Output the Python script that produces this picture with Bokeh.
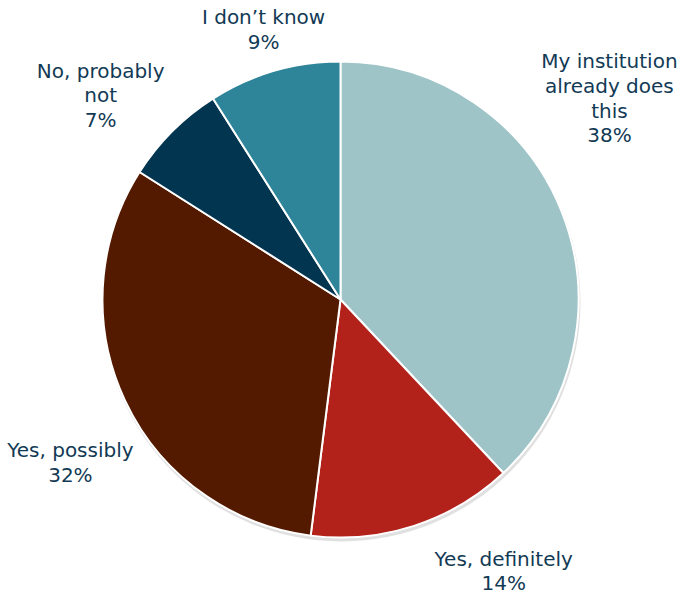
import numpy as np
from bokeh.plotting import figure
from bokeh.models import ColumnDataSource, Range1d
from bokeh.embed import file_html
from bokeh.resources import INLINE
from bokeh.core.properties import value

# ---- data ----
categories = ["My institution\nalready does\nthis", "Yes, definitely", "Yes, possibly",
              "No, probably\nnot", "I don\u2019t know"]
percent = [38, 14, 32, 7, 9]
colors = ["#9EC4C8", "#B2221A", "#541A00", "#02354F", "#2E8499"]

# ---- layout ----
W, H = 683, 597
CX, CY, R = 340, H - 299, 238
# label placement: angle clockwise from 12 o'clock (deg), distance as fraction of R
label_angle = [53.2, 149.0, 238.9, 310.4, 344.1]
label_dist = [1.417, 1.337, 1.331, 1.329, 1.185]

frac = np.array(percent, dtype=float) / sum(percent)
cum = np.concatenate([[0], np.cumsum(frac)])
start = np.pi / 2 - 2 * np.pi * cum[:-1]
end = np.pi / 2 - 2 * np.pi * cum[1:]

src = ColumnDataSource(dict(start=start, end=end, color=colors))

p = figure(width=W, height=H, x_range=Range1d(0, W), y_range=Range1d(0, H),
           output_backend="svg", toolbar_location=None, min_border=0,
           background_fill_color="white", border_fill_color="white")
p.axis.visible = False
p.grid.visible = False
p.outline_line_color = None

# subtle shadow
p.circle(x=[CX + 1], y=[CY - 3], radius=R + 1, radius_units="screen",
         fill_color="#bbbbbb", fill_alpha=0.45, line_color=None)

p.wedge(x=CX, y=CY, radius=R, radius_units="screen", start_angle="start", end_angle="end",
        direction="clock", fill_color="color", line_color="white", line_width=2, source=src)

texts = [f"{c}\n{v}%" for c, v in zip(categories, percent)]
la = np.radians(label_angle)
lx = CX + np.array(label_dist) * 237 * np.sin(la)
ly = CY + np.array(label_dist) * 237 * np.cos(la)
p.text(x=lx, y=ly, text=texts, text_align="center", text_baseline="middle",
       text_font=value("DejaVu Sans"), text_font_size="20px", text_color="#123A55",
       text_line_height=1.03)

open("out.html", "w").write(file_html(p, INLINE))
